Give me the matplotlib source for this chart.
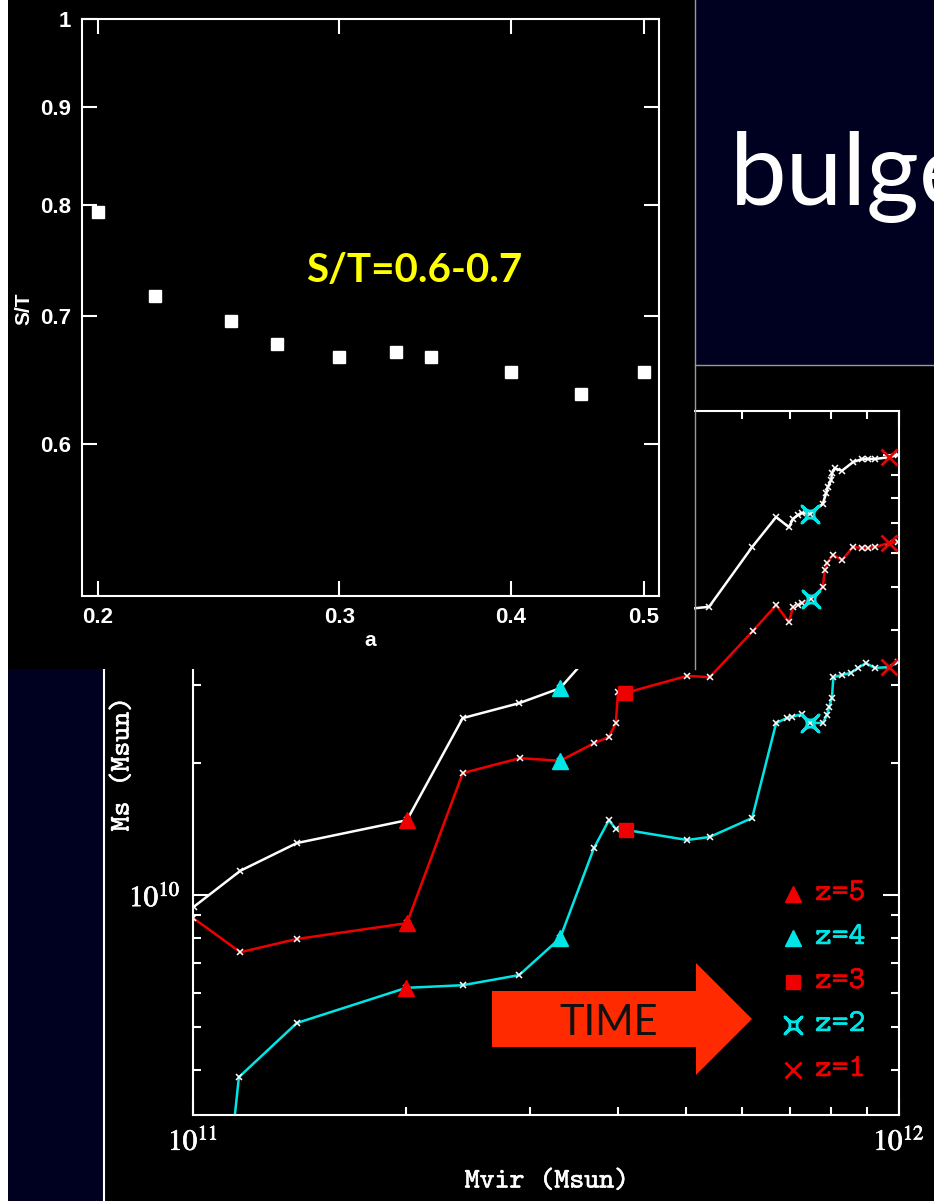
import os

import matplotlib
matplotlib.use("Agg")
import matplotlib.patheffects as pe
import matplotlib.pyplot as plt
import numpy as np
from matplotlib.font_manager import FontProperties
from matplotlib.lines import Line2D
from matplotlib.patches import Polygon, Rectangle
from matplotlib.path import Path
from matplotlib.ticker import FixedLocator, FuncFormatter, LogLocator, NullFormatter, NullLocator

plt.rcParams["mathtext.fontset"] = "stix"

W, H = 934, 1201

# inset: S/T against expansion factor a
a_vals = [0.20, 0.22, 0.25, 0.27, 0.30, 0.33, 0.35, 0.40, 0.45, 0.50]
st_vals = [0.793, 0.717, 0.696, 0.677, 0.666, 0.670, 0.666, 0.654, 0.637, 0.654]
a_ticks = [0.2, 0.3, 0.4, 0.5]
st_ticks = [0.6, 0.7, 0.8, 0.9, 1.0]
st_ticklabels = ["0.6", "0.7", "0.8", "0.9", "1"]

# main panel: log10 Mvir / log10 Ms along three tracks
white_log_mvir = [11.001, 11.067, 11.147, 11.303, 11.382, 11.462, 11.520, 11.568, 11.612, 11.700,
                  11.731, 11.792, 11.826, 11.844, 11.850, 11.857, 11.863, 11.874, 11.892, 11.897,
                  11.899, 11.904, 11.905, 11.909, 11.919, 11.935, 11.948, 11.956, 11.966, 11.986, 11.999]
white_log_ms = [9.973, 10.055, 10.118, 10.170, 10.402, 10.436, 10.470, 10.557, 10.620, 10.650,
                10.655, 10.791, 10.859, 10.836, 10.855, 10.864, 10.868, 10.866, 10.889, 10.914,
                10.927, 10.943, 10.959, 10.970, 10.964, 10.984, 10.991, 10.991, 10.991, 10.995, 11.000]
white_z_idx = [3, 6, 8, 17, 29]

red_log_mvir = [11.000, 11.067, 11.147, 11.303, 11.382, 11.463, 11.520, 11.568, 11.589, 11.599,
                11.602, 11.612, 11.700, 11.732, 11.793, 11.826, 11.844, 11.850, 11.857, 11.863,
                11.875, 11.892, 11.895, 11.898, 11.907, 11.919, 11.935, 11.948, 11.956, 11.966,
                11.986, 11.999]
red_log_ms = [9.948, 9.870, 9.900, 9.936, 10.277, 10.311, 10.305, 10.345, 10.359, 10.391,
              10.461, 10.459, 10.498, 10.495, 10.600, 10.659, 10.620, 10.655, 10.659, 10.664,
              10.673, 10.700, 10.739, 10.755, 10.773, 10.761, 10.791, 10.789, 10.789, 10.791,
              10.800, 10.802]
red_z_idx = [3, 6, 11, 20, 30]

cyan_log_mvir = [11.000, 11.065, 11.147, 11.302, 11.382, 11.462, 11.520, 11.568, 11.589, 11.599,
                 11.613, 11.700, 11.732, 11.792, 11.826, 11.841, 11.848, 11.863, 11.874, 11.892,
                 11.898, 11.901, 11.905, 11.907, 11.919, 11.932, 11.942, 11.953, 11.966, 11.986, 11.999]
cyan_log_ms = [8.60, 9.586, 9.709, 9.789, 9.795, 9.818, 9.902, 10.107, 10.170, 10.150,
               10.148, 10.125, 10.132, 10.175, 10.391, 10.402, 10.405, 10.411, 10.391, 10.391,
               10.409, 10.427, 10.448, 10.495, 10.500, 10.505, 10.516, 10.527, 10.516, 10.518, 10.530]
cyan_z_idx = [3, 6, 10, 18, 29]

z_labels = ["z=5", "z=4", "z=3", "z=2", "z=1"]

RED = "#ee0000"
CYAN = "#00e6e6"
NAVY = "#000020"

# typewriter font shipped with matplotlib, close to the plotting-package font
TT = os.path.join(matplotlib.get_data_path(), "fonts", "ttf", "cmtt10.ttf")


def tt(size):
    return FontProperties(fname=TT, size=size)


def thick(color, w=0.4):
    return [pe.withStroke(linewidth=w, foreground=color)]


def fx(px):
    return px / W


def fy(py):
    return 1 - py / H


# concave four-point star for z=2
star = Path(
    [(1, 1), (0, -0.2), (-1, 1), (0.2, 0), (-1, -1), (0, 0.2), (1, -1), (-0.2, 0), (1, 1), (1, 1)],
    [Path.MOVETO, Path.CURVE3, Path.CURVE3, Path.CURVE3, Path.CURVE3, Path.CURVE3, Path.CURVE3,
     Path.CURVE3, Path.CURVE3, Path.CLOSEPOLY],
)
z_styles = [
    dict(marker="^", color=RED, ms=12),
    dict(marker="^", color=CYAN, ms=12),
    dict(marker="s", color=RED, ms=10),
    dict(marker=star, color=CYAN, ms=12.5, mfc="none", mew=2),
    dict(marker="x", color=RED, ms=11, mew=2),
]

fig = plt.figure(figsize=(W / 100, H / 100), dpi=100, facecolor="black")

# ---- main panel ----
ax = fig.add_axes([fx(193), fy(1115), 706 / W, 704 / H], facecolor="black", zorder=0)
ax.set_xscale("log")
ax.set_yscale("log")

tracks = [
    (white_log_mvir, white_log_ms, white_z_idx, "white"),
    (red_log_mvir, red_log_ms, red_z_idx, RED),
    (cyan_log_mvir, cyan_log_ms, cyan_z_idx, CYAN),
]
for lmv, lms, zidx, col in tracks:
    mv = 10 ** np.array(lmv)
    ms = 10 ** np.array(lms)
    ax.plot(mv, ms, color=col, lw=1.8, zorder=2)
    ax.plot(mv, ms, ls="none", marker="x", ms=4.5, mew=1.1, color="white", zorder=3)
    for k, st in zip(zidx, z_styles):
        ax.plot([mv[k]], [ms[k]], ls="none", zorder=4, **st)

ax.set_xlim(1e11, 1e12)
ax.set_ylim(10 ** 9.5, 10 ** 11.1)
for axis in (ax.xaxis, ax.yaxis):
    axis.set_major_locator(LogLocator(base=10))
    axis.set_minor_locator(LogLocator(base=10, subs=np.arange(2, 10)))
    axis.set_minor_formatter(NullFormatter())
    axis.set_major_formatter(FuncFormatter(lambda v, p: r"$\mathrm{10}^{\mathrm{%d}}$" % round(np.log10(v))))
ax.tick_params(which="both", direction="in", top=True, right=True, color="white",
               labelcolor="white", width=1.5, labelsize=21)
ax.tick_params(which="major", length=11.5, pad=9)
ax.tick_params(which="minor", length=5.8)
for lab in ax.get_xticklabels() + ax.get_yticklabels():
    lab.set_path_effects(thick("white", 0.5))
for sp in ax.spines.values():
    sp.set_color("white")
    sp.set_linewidth(1.5)

# in-plot key
key_y = [894, 938, 982, 1025, 1070]
for yy, st, lab in zip(key_y, z_styles, z_labels):
    ax.plot([(793 - 193) / 706], [(1115 - yy) / 704], transform=ax.transAxes, ls="none",
            clip_on=False, zorder=5, **st)
    ax.text((815 - 193) / 706, (1115 - yy) / 704, lab, transform=ax.transAxes, color=st["color"],
            fontproperties=tt(23), ha="left", va="center", path_effects=thick(st["color"]))

fig.text(fx(547), fy(1182), "Mvir (Msun)", color="white", fontproperties=tt(20.5),
         ha="center", va="center", path_effects=thick("white"))
fig.text(fx(123), fy(764), "Ms (Msun)", color="white", fontproperties=tt(20.5),
         ha="center", va="center", rotation=90, path_effects=thick("white"))

# TIME arrow
arrow_px = [(492, 991), (696, 991), (696, 963), (752, 1019), (696, 1075), (696, 1047), (492, 1047)]
fig.add_artist(Polygon([(fx(x), fy(y)) for x, y in arrow_px], closed=True,
                       transform=fig.transFigure, facecolor="#ff2a00", edgecolor="none", zorder=1))
fig.text(fx(609), fy(1023), "TIME", color="#111111", fontsize=30, family="Lato",
         ha="center", va="center", zorder=2)

# ---- slide background pieces ----
fig.add_artist(Rectangle((fx(695), fy(365)), 239 / W, 365 / H, transform=fig.transFigure,
                         facecolor=NAVY, edgecolor="none", zorder=1))
fig.add_artist(Line2D([fx(695), 1], [fy(365), fy(365)], transform=fig.transFigure,
                      color="#9a9a9a", lw=1, zorder=2))
fig.text(fx(730), fy(205), "bulge", color="white", fontsize=73, family="Lato",
         ha="left", va="baseline", zorder=2)
fig.add_artist(Rectangle((fx(8), 0), 96 / W, fy(669), transform=fig.transFigure,
                         facecolor=NAVY, edgecolor="none", zorder=1))
fig.add_artist(Line2D([fx(104), fx(104)], [0, fy(669)], transform=fig.transFigure,
                      color="white", lw=1.5, zorder=2))
fig.add_artist(Rectangle((fx(8), fy(669)), 686 / W, 669 / H, transform=fig.transFigure,
                         facecolor="black", edgecolor="none", zorder=2))
fig.add_artist(Line2D([fx(694.5), fx(694.5)], [fy(669), 1], transform=fig.transFigure,
                      color="#9a9a9a", lw=1, zorder=3))
fig.add_artist(Rectangle((0, 0), 8 / W, 1, transform=fig.transFigure,
                         facecolor="white", edgecolor="none", zorder=6))

# ---- inset: S/T vs a ----
ins = fig.add_axes([fx(82), fy(596), 577 / W, 577 / H], facecolor="black", zorder=4)
ins.set_xscale("log")
ins.set_yscale("log")
ins.plot(a_vals, st_vals, ls="none", marker="s", ms=9, color="white", mec="white")
ins.set_xlim(0.1948, 0.5128)
ins.set_ylim(0.5, 1.0)
ins.xaxis.set_major_locator(FixedLocator(a_ticks))
ins.xaxis.set_minor_locator(NullLocator())
ins.yaxis.set_major_locator(FixedLocator(st_ticks))
ins.yaxis.set_minor_locator(NullLocator())
ins.set_xticklabels([f"{v:.1f}" for v in a_ticks])
ins.set_yticklabels(st_ticklabels)
ins.tick_params(which="both", direction="in", top=True, right=True, color="white",
                labelcolor="white", width=1.5, length=10.5, pad=8, labelsize=16)
for lab in ins.get_xticklabels() + ins.get_yticklabels():
    lab.set_family("Liberation Sans")
    lab.set_weight("bold")
for sp in ins.spines.values():
    sp.set_color("white")
    sp.set_linewidth(1.5)

fig.text(fx(370), fy(640), "a", color="white", fontsize=15, family="Liberation Sans",
         weight="bold", ha="center", va="center", zorder=5)
fig.text(fx(24), fy(309), "S/T", color="white", fontsize=15, family="Liberation Sans",
         weight="bold", ha="center", va="center", rotation=90, zorder=5)
fig.text(fx(414), fy(271), "S/T=0.6-0.7", color="#ffff00", fontsize=29, family="Lato",
         weight="bold", ha="center", va="center", zorder=5)

fig.savefig("out.png", dpi=100, facecolor="black")
